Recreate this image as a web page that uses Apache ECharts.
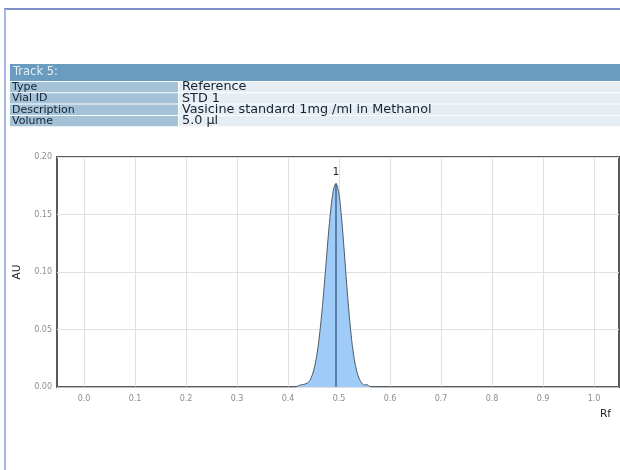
<!DOCTYPE html>
<html>
<head>
<meta charset="utf-8">
<script src="https://cdn.jsdelivr.net/npm/echarts@6/dist/echarts.min.js"></script>
<style>
html,body{margin:0;padding:0;background:#fff;}
#c{width:620px;height:470px;}
</style>
</head>
<body>
<div id="c"></div>
<script>
// ---- data ----
var trackTitle = 'Track 5:';
var infoLabels = ['Type', 'Vial ID', 'Description', 'Volume'];
var infoValues = ['Reference', 'STD 1', 'Vasicine standard 1mg /ml in Methanol', '5.0 \u00b5l'];

var rfValues = [-0.05, 0.0, 0.10, 0.20, 0.30, 0.40, 0.415, 0.420, 0.425, 0.430, 0.435, 0.440, 0.445, 0.450, 0.455, 0.460, 0.465, 0.470, 0.475, 0.480, 0.485, 0.490, 0.494, 0.500, 0.505, 0.510, 0.515, 0.520, 0.525, 0.530, 0.535, 0.540, 0.545, 0.550, 0.555, 0.560, 0.565, 0.60, 0.70, 0.80, 0.90, 1.0, 1.05];
var auValues = [0, 0, 0, 0, 0, 0, 0.0000, 0.0010, 0.0018, 0.0022, 0.0028, 0.0040, 0.0075, 0.0139, 0.0240, 0.0387, 0.0586, 0.0830, 0.1101, 0.1368, 0.1591, 0.1733, 0.1770, 0.1674, 0.1469, 0.1192, 0.0896, 0.0624, 0.0402, 0.0240, 0.0132, 0.0068, 0.0032, 0.0018, 0.0020, 0.0006, 0.0000, 0, 0, 0, 0, 0, 0];

var peakLabels = ['1'];
var peakRf = [0.494];
var peakAu = [0.177];

var xTickValues = [0.0, 0.1, 0.2, 0.3, 0.4, 0.5, 0.6, 0.7, 0.8, 0.9, 1.0];

// ---- chart ----
var chart = echarts.init(document.getElementById('c'), null, {renderer: 'canvas'});

var seriesData = rfValues.map(function (x, i) { return [x, auValues[i]]; });

var graphics = [];
// outer frame
graphics.push({type: 'line', shape: {x1: 4, y1: 9, x2: 620, y2: 9}, style: {stroke: '#7d90c9', lineWidth: 2}, silent: true});
graphics.push({type: 'line', shape: {x1: 5, y1: 9, x2: 5, y2: 470}, style: {stroke: '#a6b8e2', lineWidth: 2}, silent: true});
// header band
graphics.push({type: 'rect', shape: {x: 10, y: 64, width: 610, height: 17}, style: {fill: '#6a9cbf'}, silent: true});
graphics.push({type: 'text', x: 13, y: 72.5, style: {text: trackTitle, fill: '#e4eef5', font: '11.5px "DejaVu Sans"', verticalAlign: 'middle'}, silent: true});
var rowTop = 82, rowH = 11.3;
for (var i = 0; i < infoLabels.length; i++) {
  var y = rowTop + i * rowH;
  graphics.push({type: 'rect', shape: {x: 10, y: y, width: 168, height: rowH - 1}, style: {fill: '#a3c2d8'}, silent: true});
  graphics.push({type: 'rect', shape: {x: 179, y: y, width: 441, height: rowH - 1}, style: {fill: '#e6eef3'}, silent: true});
  graphics.push({type: 'text', x: 12, y: y + rowH / 2 - 0.5, style: {text: infoLabels[i], fill: '#142230', font: '11px "DejaVu Sans"', verticalAlign: 'middle'}, silent: true});
  graphics.push({type: 'text', x: 182, y: y + rowH / 2 - 0.5, style: {text: infoValues[i], fill: '#142230', font: '12.8px "DejaVu Sans"', verticalAlign: 'middle'}, silent: true});
}

var option = {
  backgroundColor: '#ffffff',
  animation: false,
  graphic: graphics,
  grid: {
    left: 57, top: 157, right: 1, bottom: 83,
    show: true, borderColor: '#5a5a5a', borderWidth: 2, backgroundColor: 'transparent',
    containLabel: false
  },
  xAxis: {
    type: 'value',
    min: -0.053, max: 1.049,
    name: 'Rf',
    nameLocation: 'end',
    nameGap: -8,
    nameTextStyle: {color: '#222', fontSize: 10.5, fontFamily: 'DejaVu Sans', align: 'right', verticalAlign: 'top', padding: [22, 0, 0, 0]},
    axisLine: {show: false},
    axisTick: {show: false, customValues: xTickValues},
    axisLabel: {customValues: xTickValues, color: '#8c8c8c', fontSize: 8, fontFamily: 'DejaVu Sans', margin: 8,
      formatter: function (v) { return v.toFixed(1); }},
    splitLine: {show: true, lineStyle: {color: '#e0e0e0', width: 1}}
  },
  yAxis: {
    type: 'value',
    min: 0, max: 0.2, interval: 0.05,
    name: 'AU',
    nameLocation: 'middle',
    nameGap: 34,
    nameRotate: 90,
    nameTextStyle: {color: '#222', fontSize: 10.5, fontFamily: 'DejaVu Sans'},
    axisLine: {show: false},
    axisTick: {show: false},
    axisLabel: {color: '#8c8c8c', fontSize: 8, fontFamily: 'DejaVu Sans', margin: 5,
      formatter: function (v) { return v.toFixed(2); }},
    splitLine: {show: true, lineStyle: {color: '#e0e0e0', width: 1}}
  },
  series: [{
    type: 'line',
    data: seriesData,
    smooth: 0.3,
    showSymbol: false,
    lineStyle: {color: '#4f5a66', width: 1},
    areaStyle: {color: '#9ecbf7', opacity: 1},
    markLine: {
      silent: true,
      symbol: 'none',
      lineStyle: {color: '#46678a', width: 1.5, type: 'solid'},
      label: {show: true, position: 'end', formatter: function (p) { return peakLabels[0]; }, color: '#222', fontSize: 10, fontFamily: 'DejaVu Sans', distance: 6},
      data: peakRf.map(function (x, i) { return [{coord: [x, 0]}, {coord: [x, peakAu[i]]}]; })
    }
  }]
};
chart.setOption(option);
</script>
</body>
</html>
